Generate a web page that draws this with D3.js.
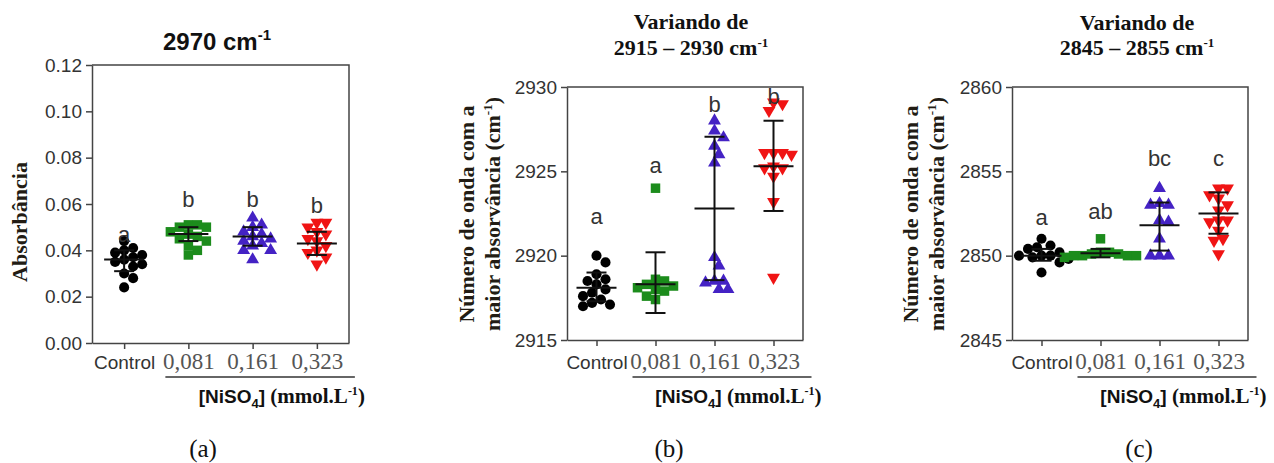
<!DOCTYPE html>
<html>
<head>
<meta charset="utf-8">
<script src="https://cdn.jsdelivr.net/npm/d3@7"></script>
<style>
    body { margin: 0; background: #fff; }
    svg { display: block; }
</style>
</head>
<body>
<svg id="chart" width="1274" height="463"></svg>
<script>
(function () {
    'use strict';

    // ---- data ----
    var categories = ["Control", "0,081", "0,161", "0,323"];

    // (a) absorbance at 2970 cm-1
    var aValues = [
        [0.044, 0.041, 0.040, 0.039, 0.038, 0.037, 0.036, 0.035, 0.034, 0.033, 0.030, 0.028, 0.024],
        [0.051, 0.051, 0.050, 0.050, 0.048, 0.047, 0.046, 0.045, 0.044, 0.042, 0.040, 0.038],
        [0.054, 0.051, 0.050, 0.048, 0.047, 0.046, 0.045, 0.044, 0.043, 0.042, 0.040, 0.040, 0.036],
        [0.052, 0.052, 0.050, 0.048, 0.047, 0.045, 0.044, 0.042, 0.040, 0.039, 0.037, 0.034]
    ];
    var aMeans = [0.036, 0.047, 0.046, 0.043];
    var aLow = [0.031, 0.044, 0.042, 0.038];
    var aHigh = [0.040, 0.050, 0.050, 0.048];
    var aLetters = ["a", "b", "b", "b"];
    var aLetterY = [0.0437, 0.0587, 0.0587, 0.056];
    var aTicks = [0, 0.02, 0.04, 0.06, 0.08, 0.10, 0.12];

    // (b) wavenumber of max absorbance, 2915 - 2930 cm-1
    var bValues = [
        [2920.0, 2919.6, 2918.9, 2918.6, 2918.3, 2918.0, 2917.8, 2917.6, 2917.4, 2917.2, 2917.0, 2917.1, 2918.5],
        [2924.0, 2918.6, 2918.5, 2918.3, 2918.2, 2918.1, 2918.0, 2917.9, 2917.6, 2917.4],
        [2928.0, 2927.4, 2927.0, 2926.5, 2926.0, 2925.5, 2919.9, 2919.4, 2918.5, 2918.4, 2918.5, 2918.0, 2918.0],
        [2929.1, 2929.0, 2928.6, 2926.1, 2926.1, 2926.0, 2926.1, 2925.2, 2925.3, 2925.2, 2924.7, 2923.2, 2918.7]
    ];
    var bMeans = [2918.1, 2918.3, 2922.8, 2925.3];
    var bLow = [2917.3, 2916.6, 2918.55, 2922.65];
    var bHigh = [2919.0, 2920.2, 2927.05, 2928.0];
    var bLetters = ["a", "a", "b", "b"];
    var bLetterY = [2921.85, 2924.9, 2928.5, 2929.0];
    var bTicks = [2915, 2920, 2925, 2930];

    // (c) wavenumber of max absorbance, 2845 - 2855 cm-1
    var cValues = [
        [2851.0, 2850.6, 2850.5, 2850.4, 2850.2, 2850.0, 2850.0, 2850.0, 2849.9, 2849.8, 2849.6, 2849.0],
        [2851.0, 2850.2, 2850.2, 2850.1, 2850.1, 2850.0, 2850.0, 2850.0, 2850.0, 2849.9],
        [2854.0, 2853.1, 2853.0, 2853.0, 2852.1, 2852.0, 2851.0, 2850.0, 2850.0, 2850.0],
        [2854.0, 2854.0, 2853.6, 2853.4, 2853.0, 2852.7, 2852.1, 2852.0, 2852.1, 2851.5, 2851.0, 2850.9, 2850.1]
    ];
    var cMeans = [2850.0, 2850.15, 2851.8, 2852.5];
    var cLow = [2849.7, 2849.9, 2850.3, 2851.3];
    var cHigh = [2850.4, 2850.4, 2853.15, 2853.75];
    var cLetters = ["a", "ab", "bc", "c"];
    var cLetterY = [2851.8, 2852.2, 2855.3, 2855.3];
    var cTicks = [2845, 2850, 2855, 2860];

    // ---- styles ----
    var colors = ["#000000", "#1c8c1c", "#4422c4", "#f01414"];
    var shapes = ["circle", "square", "triangle", "triangleDown"];
    var SANS = "'Liberation Sans', Arial, sans-serif";
    var SERIF = "'Liberation Serif', 'Times New Roman', serif";

    var panels = [
        {
            values: aValues, means: aMeans, low: aLow, high: aHigh, letters: aLetters, letterY: aLetterY,
            ticks: aTicks, domain: [0, 0.12], fmt: d3.format(".2f"),
            left: 92, right: 349, top: 65, bottom: 343,
            ylabel: ["Absorbância"], ylabelX: [27], ylabelY: 222,
            title: [{ sans: true, text: "2970 cm", sup: "-1", y: 50 }], titleX: 217,
            tag: "(a)", tagX: 203
        },
        {
            values: bValues, means: bMeans, low: bLow, high: bHigh, letters: bLetters, letterY: bLetterY,
            ticks: bTicks, domain: [2915, 2930], fmt: d3.format("d"),
            left: 567, right: 803, top: 87, bottom: 340,
            ylabel: ["Número de onda com a", "maior absorvância (cm"], ylabelX: [474, 500], ylabelY: 214,
            title: [{ text: "Variando de", y: 29 }, { text: "2915 – 2930 cm", sup: "-1", y: 55 }], titleX: 691,
            tag: "(b)", tagX: 669
        },
        {
            values: cValues, means: cMeans, low: cLow, high: cHigh, letters: cLetters, letterY: cLetterY,
            ticks: cTicks, domain: [2845, 2860], fmt: d3.format("d"),
            left: 1012, right: 1248, top: 87, bottom: 340,
            ylabel: ["Número de onda com a", "maior absorvância (cm"], ylabelX: [918, 944], ylabelY: 214,
            title: [{ text: "Variando de", y: 30 }, { text: "2845 – 2855 cm", sup: "-1", y: 55 }], titleX: 1137,
            tag: "(c)", tagX: 1139
        }
    ];

    var svg = d3.select("#chart");

    function symbolPath(shape) {
        if (shape === "circle") return d3.symbol().type(d3.symbolCircle).size(80)();
        if (shape === "square") return d3.symbol().type(d3.symbolSquare).size(90)();
        return d3.symbol().type(d3.symbolTriangle).size(72)();
    }

    // simple beeswarm: spread points sideways so they do not pile up completely
    function swarm(vals, y, diam) {
        var pts = vals.map(function (v) { return { v: v, y: y(v) }; })
            .sort(function (p, q) { return p.y - q.y; });
        var placed = [];
        var step = diam * 0.45, minD = diam * 0.85;
        pts.forEach(function (p) {
            for (var k = 0; k < 60; k++) {
                var off = k === 0 ? 0 : (k % 2 === 1 ? 1 : -1) * Math.ceil(k / 2) * step;
                var hit = placed.some(function (q) {
                    var dx = q.x - off, dy = q.y - p.y;
                    return dx * dx + dy * dy < minD * minD;
                });
                if (!hit) { p.x = off; break; }
            }
            placed.push(p);
        });
        return placed;
    }

    function drawPanel(p) {
        var g = svg.append("g");

        var y = d3.scaleLinear().domain(p.domain).range([p.bottom, p.top]);
        var x = d3.scalePoint().domain(categories).range([p.left, p.right]).padding(0.5);

        // frame (top + right)
        g.append("path")
            .attr("d", "M" + p.left + "," + p.top + "H" + p.right + "V" + p.bottom)
            .attr("fill", "none").attr("stroke", "#444").attr("stroke-width", 1.5);

        // y axis
        var ya = g.append("g")
            .attr("transform", "translate(" + p.left + ",0)")
            .call(d3.axisLeft(y).tickValues(p.ticks).tickFormat(p.fmt).tickSize(6).tickSizeOuter(0).tickPadding(4));
        ya.select(".domain").attr("stroke", "#444").attr("stroke-width", 1.5);
        ya.selectAll(".tick line").attr("stroke", "#444").attr("stroke-width", 1.5);
        ya.selectAll(".tick text").attr("font-family", SANS).attr("font-size", 19).attr("fill", "#333");

        // x axis
        var xa = g.append("g")
            .attr("transform", "translate(0," + p.bottom + ")")
            .call(d3.axisBottom(x).tickSize(6).tickSizeOuter(0));
        xa.select(".domain").attr("stroke", "#444").attr("stroke-width", 1.5);
        xa.selectAll(".tick line").attr("stroke", "#444").attr("stroke-width", 1.5);
        xa.selectAll(".tick text")
            .attr("y", 369 - p.bottom).attr("dy", 0)
            .attr("font-family", function (d, i) { return i === 0 ? SANS : SERIF; })
            .attr("font-size", function (d, i) { return i === 0 ? 19 : 23; })
            .attr("fill", function (d, i) { return i === 0 ? "#333" : "#555"; });

        // underline grouping the NiSO4 doses
        var x1 = x(categories[1]) - 23, x2 = x(categories[3]) + 38;
        g.append("line")
            .attr("x1", x1).attr("x2", x2).attr("y1", 377).attr("y2", 377)
            .attr("stroke", "#333").attr("stroke-width", 1.5);

        var cap = g.append("text")
            .attr("x", x2 + 10).attr("y", 403)
            .attr("text-anchor", "end").attr("font-weight", "bold").attr("fill", "#111");
        cap.append("tspan").attr("font-family", SANS).attr("font-size", 19).text("[NiSO");
        cap.append("tspan").attr("font-family", SANS).attr("font-size", 13).attr("dy", 5).text("4");
        cap.append("tspan").attr("font-family", SANS).attr("font-size", 19).attr("dy", -5).text("]");
        cap.append("tspan").attr("font-family", SERIF).attr("font-size", 21).text(" (mmol.L");
        cap.append("tspan").attr("font-family", SERIF).attr("font-size", 12).attr("dy", -8).text("-1");
        cap.append("tspan").attr("font-family", SERIF).attr("font-size", 21).attr("dy", 8).text(")");

        // points
        p.values.forEach(function (vals, i) {
            var cx = x(categories[i]);
            var pts = swarm(vals, y, 10);
            g.append("g").selectAll("path")
                .data(pts)
                .enter()
                .append("path")
                .attr("d", symbolPath(shapes[i]))
                .attr("transform", function (d) {
                    var t = "translate(" + (cx + d.x) + "," + d.y + ")";
                    return shapes[i] === "triangleDown" ? t + " rotate(180)" : t;
                })
                .attr("fill", colors[i]);
        });

        // mean and SD bars
        p.means.forEach(function (m, i) {
            var cx = x(categories[i]);
            var eb = g.append("g").attr("stroke", "#111").attr("stroke-width", 2);
            eb.append("line").attr("x1", cx).attr("x2", cx).attr("y1", y(p.low[i])).attr("y2", y(p.high[i]));
            eb.append("line").attr("x1", cx - 10).attr("x2", cx + 10).attr("y1", y(p.low[i])).attr("y2", y(p.low[i]));
            eb.append("line").attr("x1", cx - 10).attr("x2", cx + 10).attr("y1", y(p.high[i])).attr("y2", y(p.high[i]));
            eb.append("line").attr("x1", cx - 20).attr("x2", cx + 20).attr("y1", y(m)).attr("y2", y(m));
        });

        // significance letters
        g.append("g").selectAll("text")
            .data(p.letters)
            .enter()
            .append("text")
            .attr("x", function (d, i) { return x(categories[i]); })
            .attr("y", function (d, i) { return y(p.letterY[i]); })
            .attr("text-anchor", "middle")
            .attr("font-family", SANS).attr("font-size", 22).attr("fill", "#333")
            .text(function (d) { return d; });

        // y label (rotated)
        p.ylabel.forEach(function (line, j) {
            var t = g.append("text")
                .attr("transform", "translate(" + p.ylabelX[j] + "," + p.ylabelY + ") rotate(-90)")
                .attr("text-anchor", "middle")
                .attr("font-family", SERIF).attr("font-weight", "bold").attr("font-size", 22)
                .attr("fill", "#221c14");
            t.append("tspan").text(line);
            if (j === 1) {
                t.append("tspan").attr("font-size", 13).attr("dy", -8).text("-1");
                t.append("tspan").attr("dy", 8).text(")");
            }
        });

        // title
        p.title.forEach(function (ln) {
            var t = g.append("text")
                .attr("x", p.titleX).attr("y", ln.y)
                .attr("text-anchor", "middle").attr("font-weight", "bold").attr("fill", "#111")
                .attr("font-family", ln.sans ? SANS : SERIF)
                .attr("font-size", ln.sans ? 24 : 22);
            t.append("tspan").text(ln.text);
            if (ln.sup) {
                t.append("tspan").attr("font-size", ln.sans ? 15 : 13).attr("dy", ln.sans ? -10 : -8).text(ln.sup);
            }
        });

        // panel tag
        g.append("text")
            .attr("x", p.tagX).attr("y", 457)
            .attr("text-anchor", "middle")
            .attr("font-family", SERIF).attr("font-size", 25).attr("fill", "#111")
            .text(p.tag);
    }

    panels.forEach(drawPanel);
})();
</script>
</body>
</html>
